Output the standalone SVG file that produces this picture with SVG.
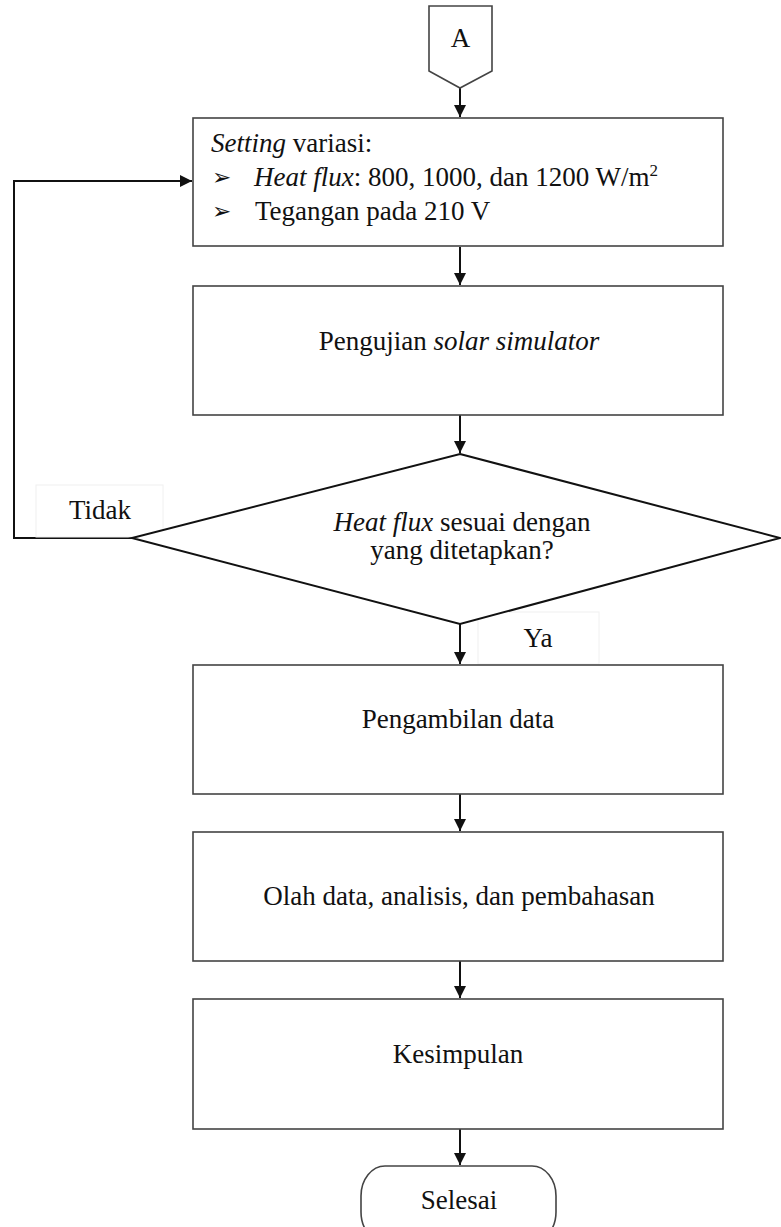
<svg xmlns="http://www.w3.org/2000/svg" width="781" height="1227" viewBox="0 0 781 1227">
<style>
.t{font-family:"Liberation Serif","Times New Roman",serif;font-size:27px;fill:#111}
.c{text-anchor:middle}
.i{font-style:italic}
.box{fill:#fff;stroke:#444;stroke-width:1.6}
.lbl{fill:#fff;stroke:#f0f0f0;stroke-width:1}
.ln{fill:none;stroke:#111;stroke-width:2}
.bul{font-family:"DejaVu Sans",sans-serif;font-size:23px;fill:#111}
</style>
<defs>
<marker id="ah" viewBox="0 0 10 10" refX="10" refY="5" markerWidth="6" markerHeight="6" orient="auto" markerUnits="strokeWidth">
<path d="M0,0 L10,5 L0,10 z" fill="#111"/>
</marker>
</defs>
<rect width="781" height="1227" fill="#fff"/>
<g id="connectors">
<line class="ln" x1="460" y1="88" x2="460" y2="117" marker-end="url(#ah)"/>
<line class="ln" x1="460" y1="247" x2="460" y2="285" marker-end="url(#ah)"/>
<line class="ln" x1="460" y1="415" x2="460" y2="453" marker-end="url(#ah)"/>
<line class="ln" x1="460" y1="624" x2="460" y2="664" marker-end="url(#ah)"/>
<line class="ln" x1="460" y1="794" x2="460" y2="831" marker-end="url(#ah)"/>
<line class="ln" x1="460" y1="961" x2="460" y2="998" marker-end="url(#ah)"/>
<line class="ln" x1="460" y1="1129" x2="460" y2="1165" marker-end="url(#ah)"/>
<polyline class="ln" points="132,538 14,538 14,181 192,181" marker-end="url(#ah)"/>
</g>
<g id="label-tidak">
<rect class="lbl" x="36" y="485" width="127" height="52"/>
<text class="t c" x="100" y="519">Tidak</text>
</g>
<g id="label-ya">
<rect class="lbl" x="478" y="612" width="121" height="52"/>
<text class="t c" x="538" y="647">Ya</text>
</g>
<g id="node-a">
<path class="box" d="M429,6 H492 V71 L460,88 L429,71 Z" stroke="#111" stroke-width="2"/>
<text class="t c" x="460.5" y="47">A</text>
</g>
<g id="node-setting">
<rect class="box" x="193" y="118" width="530" height="128"/>
<text class="t" x="211" y="152"><tspan class="i">Setting</tspan> variasi:</text>
<text class="bul" x="212" y="185">➢</text>
<text class="t" x="254" y="186"><tspan class="i">Heat flux</tspan>: 800, 1000, dan 1200 W/m<tspan font-size="17" dy="-10">2</tspan></text>
<text class="bul" x="212" y="219">➢</text>
<text class="t" x="255" y="220">Tegangan pada 210 V</text>
</g>
<g id="node-pengujian">
<rect class="box" x="193" y="286" width="530" height="129"/>
<text class="t c" x="459" y="350">Pengujian <tspan class="i">solar simulator</tspan></text>
</g>
<g id="node-decision">
<polygon points="460,454 780,538 460,624 132,538" fill="#fff" stroke="#111" stroke-width="2"/>
<text class="t c" x="462" y="531"><tspan class="i">Heat flux</tspan> sesuai dengan</text>
<text class="t c" x="462" y="559">yang ditetapkan?</text>
</g>
<g id="node-pengambilan">
<rect class="box" x="193" y="665" width="530" height="129"/>
<text class="t c" x="458" y="728">Pengambilan data</text>
</g>
<g id="node-olah">
<rect class="box" x="193" y="832" width="530" height="129"/>
<text class="t c" x="459" y="905">Olah data, analisis, dan pembahasan</text>
</g>
<g id="node-kesimpulan">
<rect class="box" x="193" y="999" width="530" height="130"/>
<text class="t c" x="458" y="1063">Kesimpulan</text>
</g>
<g id="node-selesai">
<rect class="box" x="361" y="1166" width="195" height="76" rx="24" ry="30"/>
<text class="t c" x="459" y="1209">Selesai</text>
</g>
</svg>
